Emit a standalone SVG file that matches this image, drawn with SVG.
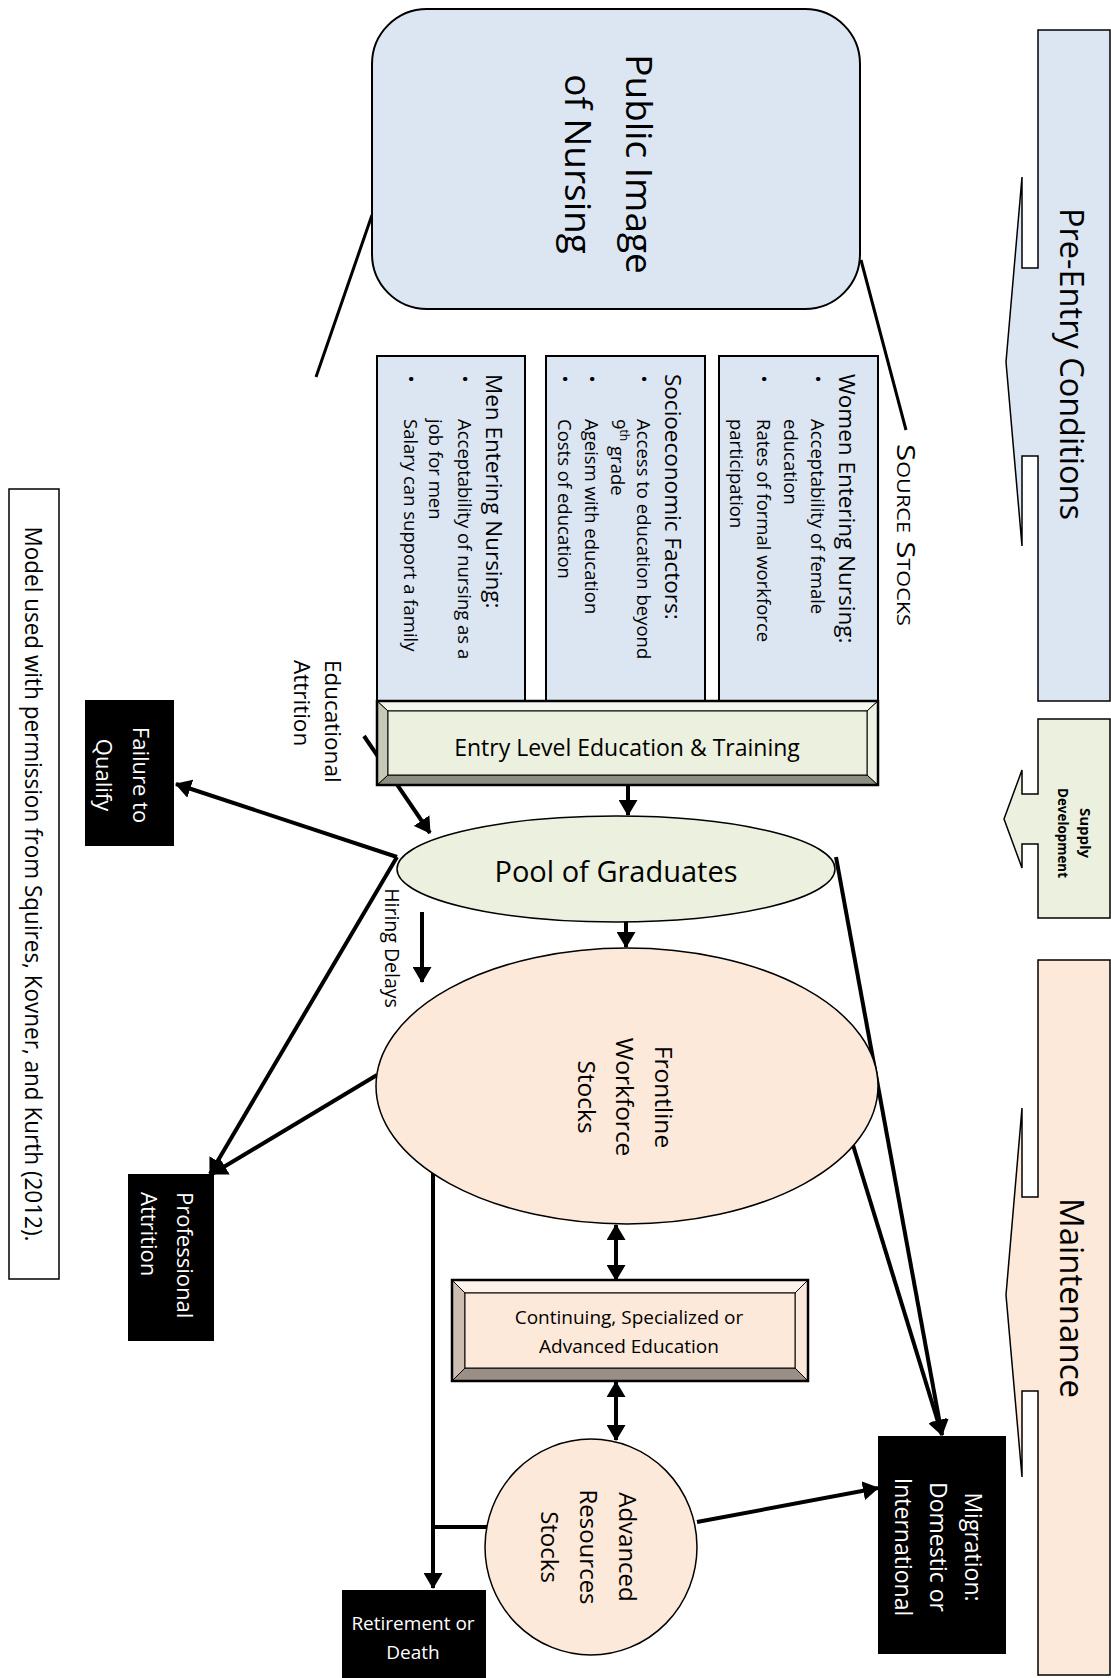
<svg xmlns="http://www.w3.org/2000/svg" width="1111" height="1678" viewBox="0 0 1111 1678">
<style>
text{font-family:"Open Sans","Liberation Sans",sans-serif;fill:#000}
.w{fill:#fff}
.m{text-anchor:middle;dominant-baseline:central}
.s{text-anchor:start;dominant-baseline:central}
.blue{fill:#DCE6F2;stroke:#000;stroke-width:2}
.green{fill:#EBF1DE;stroke:#000;stroke-width:1.5}
.peach{fill:#FDE9D9;stroke:#000;stroke-width:1.5}
.blk{fill:#000}
.ln{fill:none;stroke:#000;stroke-width:4}
.ar{marker-end:url(#ah)}
.da{marker-start:url(#ah);marker-end:url(#ah)}
.thin{fill:none;stroke:#000;stroke-width:3}
.bv{stroke:#000;stroke-width:1}
</style>
<defs>
<marker id="ah" markerUnits="userSpaceOnUse" markerWidth="16" markerHeight="19" viewBox="0 0 16 19" refX="15" refY="9.5" orient="auto-start-reverse"><path d="M0,0 L16,9.5 L0,19 z" fill="#000"/></marker>
</defs>
<rect width="1111" height="1678" fill="#fff"/>

<!-- Stage callouts -->
<g id="pre-entry">
<path d="M1038,30 H1110 V701 H1038 V456 H1022 V546 L1006,362 L1022,177 V268 H1038 Z" fill="#DCE6F2" stroke="#000" stroke-width="1.5"/>
<text class="m" font-size="33" transform="translate(1072,364) rotate(90)" textLength="312" lengthAdjust="spacingAndGlyphs">Pre-Entry Conditions</text>
</g>
<g id="supply-development">
<path d="M1038,719 H1110 V918 H1038 V844 H1022 V868 L1004,819 L1022,770 V794 H1038 Z" fill="#EBF1DE" stroke="#000" stroke-width="1.5"/>
<text class="m" font-size="15" font-weight="bold" transform="translate(1086,833) rotate(90)">Supply</text>
<text class="m" font-size="15" font-weight="bold" transform="translate(1064,833) rotate(90)" textLength="90" lengthAdjust="spacingAndGlyphs">Development</text>
</g>
<g id="maintenance">
<path d="M1038,960 H1110 V1675 H1038 V1391 H1022 V1477 L1006,1295 L1022,1108 V1197 H1038 Z" fill="#FDE9D9" stroke="#000" stroke-width="1.5"/>
<text class="m" font-size="33" transform="translate(1072,1298) rotate(90)" textLength="200" lengthAdjust="spacingAndGlyphs">Maintenance</text>
</g>

<!-- Connectors -->
<g id="connectors">
<line class="thin" x1="372" y1="215" x2="316" y2="377"/>
<line class="thin" x1="861" y1="260" x2="906" y2="430"/>
<line class="ln ar" x1="628" y1="786" x2="628" y2="815"/>
<line class="ln ar" x1="364" y1="736" x2="430" y2="833"/>
<line class="ln ar" x1="397" y1="857" x2="176" y2="784"/>
<line class="ln ar" x1="397" y1="857" x2="210" y2="1174"/>
<line class="ln ar" x1="377" y1="1075" x2="212" y2="1174"/>
<line class="ln ar" x1="626" y1="912" x2="626" y2="947"/>
<line class="ln ar" x1="422" y1="912" x2="422" y2="982"/>
<line class="ln ar" x1="836" y1="857" x2="942" y2="1435"/>
<line class="ln ar" x1="853" y1="1145" x2="942" y2="1435"/>
<line class="ln da" x1="616" y1="1225" x2="616" y2="1280"/>
<line class="ln da" x1="616" y1="1382" x2="616" y2="1440"/>
<line class="ln ar" x1="433" y1="1172" x2="433" y2="1588"/>
<line class="ln" x1="431" y1="1527" x2="487" y2="1527"/>
<line class="ln ar" x1="697" y1="1522" x2="878" y2="1488"/>
</g>

<g id="public-image">
<rect class="blue" x="372" y="9" width="488" height="300" rx="55" ry="55"/>
<text class="m" font-size="37" transform="translate(640,164) rotate(90)">Public Image</text>
<text class="m" font-size="37" transform="translate(579,164) rotate(90)">of Nursing</text>
</g>

<g id="source-stocks-label">
<text class="m" font-size="26" font-variant="small-caps" transform="translate(907,535) rotate(90)" textLength="182" lengthAdjust="spacingAndGlyphs">Source Stocks</text>
</g>

<g id="women">
<rect class="blue" x="719" y="356" width="159" height="345"/>
<text class="s" font-size="22.5" transform="translate(847,374) rotate(90)">Women Entering Nursing:</text>
<text class="m" font-size="18.5" transform="translate(818,379) rotate(90)">•</text>
<text class="s" font-size="18.5" transform="translate(818,419) rotate(90)">Acceptability of female</text>
<text class="s" font-size="18.5" transform="translate(791,419) rotate(90)">education</text>
<text class="m" font-size="18.5" transform="translate(764,379) rotate(90)">•</text>
<text class="s" font-size="18.5" transform="translate(764,419) rotate(90)">Rates of formal workforce</text>
<text class="s" font-size="18.5" transform="translate(737,419) rotate(90)">participation</text>
</g>

<g id="socioeconomic">
<rect class="blue" x="546" y="356" width="159" height="345"/>
<text class="s" font-size="22.5" transform="translate(673,374) rotate(90)">Socioeconomic Factors:</text>
<text class="m" font-size="18.5" transform="translate(644,379) rotate(90)">•</text>
<text class="s" font-size="18.5" transform="translate(644,419) rotate(90)">Access to education beyond</text>
<text class="s" font-size="18.5" transform="translate(619,419) rotate(90)">9<tspan font-size="12" dy="-6">th</tspan><tspan dy="6"> grade</tspan></text>
<text class="m" font-size="18.5" transform="translate(592,379) rotate(90)">•</text>
<text class="s" font-size="18.5" transform="translate(592,419) rotate(90)">Ageism with education</text>
<text class="m" font-size="18.5" transform="translate(565,379) rotate(90)">•</text>
<text class="s" font-size="18.5" transform="translate(565,419) rotate(90)">Costs of education</text>
</g>

<g id="men">
<rect class="blue" x="377" y="356" width="148" height="345"/>
<text class="s" font-size="22.5" transform="translate(494,374) rotate(90)">Men Entering Nursing:</text>
<text class="m" font-size="18.5" transform="translate(465,379) rotate(90)">•</text>
<text class="s" font-size="18.5" transform="translate(465,419) rotate(90)">Acceptability of nursing as a</text>
<text class="s" font-size="18.5" transform="translate(436,419) rotate(90)">job for men</text>
<text class="m" font-size="18.5" transform="translate(411,379) rotate(90)">•</text>
<text class="s" font-size="18.5" transform="translate(411,419) rotate(90)">Salary can support a family</text>
</g>

<g id="entry-education">
<polygon class="bv" fill="#F4F7EE" points="377,701 878,701 867,711 388,711"/>
<polygon class="bv" fill="#8C8E82" points="377,785 878,785 867,775 388,775"/>
<polygon class="bv" fill="#C6C9B8" points="377,701 388,711 388,775 377,785"/>
<polygon class="bv" fill="#EEF2E4" points="878,701 867,711 867,775 878,785"/>
<rect x="388" y="711" width="479" height="64" fill="#EBF1DE" stroke="#000" stroke-width="1"/>
<rect x="377" y="701" width="501" height="84" fill="none" stroke="#000" stroke-width="2.5"/>
<text class="m" font-size="23" x="627" y="747">Entry Level Education &amp; Training</text>
</g>

<g id="educational-attrition">
<text class="s" font-size="22.5" transform="translate(333,660) rotate(90)">Educational</text>
<text class="s" font-size="22.5" transform="translate(302,660) rotate(90)">Attrition</text>
</g>

<g id="pool">
<ellipse class="green" cx="616" cy="869" rx="219" ry="53"/>
<text class="m" font-size="29" x="616" y="870">Pool of Graduates</text>
</g>

<g id="hiring-delays">
<text class="m" font-size="19.5" transform="translate(392,948) rotate(90)">Hiring Delays</text>
</g>

<g id="frontline">
<ellipse class="peach" cx="627" cy="1086" rx="251" ry="138"/>
<text class="m" font-size="24.5" transform="translate(664,1097) rotate(90)">Frontline</text>
<text class="m" font-size="24.5" transform="translate(625,1097) rotate(90)">Workforce</text>
<text class="m" font-size="24.5" transform="translate(587,1097) rotate(90)">Stocks</text>
</g>

<g id="failure">
<rect class="blk" x="85" y="700" width="89" height="146"/>
<text class="m w" font-size="22" transform="translate(142,775) rotate(90)">Failure to</text>
<text class="m w" font-size="22" transform="translate(105,775) rotate(90)">Qualify</text>
</g>

<g id="professional-attrition">
<rect class="blk" x="128" y="1174" width="86" height="167"/>
<text class="s w" font-size="22" transform="translate(186,1192) rotate(90)">Professional</text>
<text class="s w" font-size="22" transform="translate(150,1192) rotate(90)">Attrition</text>
</g>

<g id="continuing-education">
<polygon class="bv" fill="#FEF3EA" points="452,1280 808,1280 795,1293 465,1293"/>
<polygon class="bv" fill="#9A8F86" points="452,1381 808,1381 795,1368 465,1368"/>
<polygon class="bv" fill="#CDBDB0" points="452,1280 465,1293 465,1368 452,1381"/>
<polygon class="bv" fill="#FBE8DB" points="808,1280 795,1293 795,1368 808,1381"/>
<rect x="465" y="1293" width="330" height="75" fill="#FDE9D9" stroke="#000" stroke-width="1"/>
<rect x="452" y="1280" width="356" height="101" fill="none" stroke="#000" stroke-width="2.5"/>
<text class="m" font-size="19" x="629" y="1317">Continuing, Specialized or</text>
<text class="m" font-size="19" x="629" y="1346">Advanced Education</text>
</g>

<g id="advanced">
<ellipse class="peach" cx="591" cy="1547" rx="106" ry="108"/>
<text class="m" font-size="24" transform="translate(628,1547) rotate(90)">Advanced</text>
<text class="m" font-size="24" transform="translate(589,1547) rotate(90)">Resources</text>
<text class="m" font-size="24" transform="translate(550,1547) rotate(90)">Stocks</text>
</g>

<g id="migration">
<rect class="blk" x="878" y="1436" width="128" height="218"/>
<text class="m w" font-size="23" transform="translate(974,1547) rotate(90)">Migration:</text>
<text class="m w" font-size="23" transform="translate(939,1547) rotate(90)">Domestic or</text>
<text class="m w" font-size="23" transform="translate(904,1547) rotate(90)">International</text>
</g>

<g id="retirement">
<rect class="blk" x="342" y="1590" width="144" height="88"/>
<text class="m w" font-size="19" x="413" y="1623">Retirement or</text>
<text class="m w" font-size="19" x="413" y="1652">Death</text>
</g>

<g id="citation">
<rect x="9" y="489" width="50" height="790" fill="#fff" stroke="#000" stroke-width="1.5"/>
<text class="m" font-size="24" transform="translate(34,884) rotate(90)" textLength="715" lengthAdjust="spacingAndGlyphs">Model used with permission from Squires, Kovner, and Kurth (2012).</text>
</g>
</svg>
